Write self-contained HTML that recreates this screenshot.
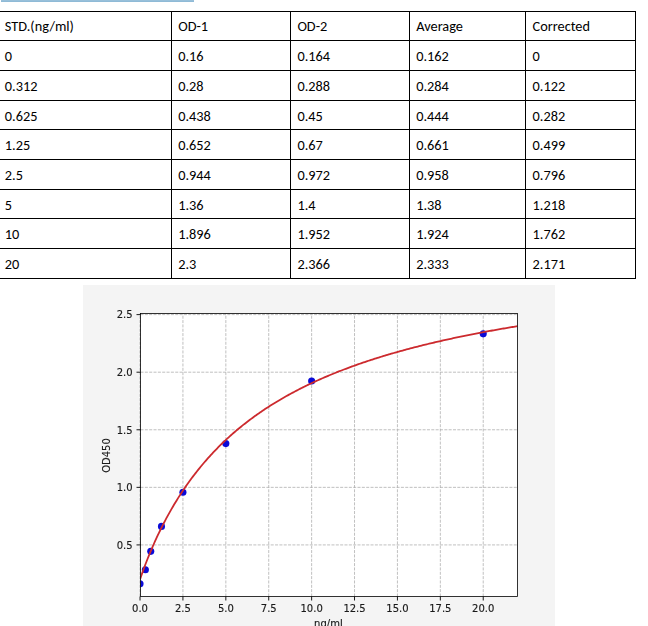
<!DOCTYPE html>
<html><head><meta charset="utf-8"><title>Standard curve</title>
<style>
html,body{margin:0;padding:0;background:#fff;}
#page{position:relative;width:648px;height:626px;overflow:hidden;background:#fff;}
.bar{position:absolute;left:1px;top:0;width:193px;height:2px;background:linear-gradient(#98c0da 0 1px,#8fbad6 1px 2px);}
.tbl{position:absolute;left:-1px;top:11px;border-collapse:separate;border-spacing:0;border-top:1px solid #000;border-left:1px solid #000;table-layout:fixed;font-family:Carlito,"Liberation Sans",sans-serif;font-size:14.3px;color:#000;}
.tbl th,.tbl td{box-sizing:border-box;border-right:1px solid #000;border-bottom:1px solid #000;padding:6px 0 0 0;vertical-align:top;text-align:left;font-weight:normal;line-height:18px;white-space:nowrap;overflow:hidden;}
.tbl th{padding-top:5px;}
.tbl tr>*:nth-child(1){width:172px;padding-left:4.8px;}
.tbl tr>*:nth-child(2){width:119px;padding-left:6.2px;}
.tbl tr>*:nth-child(3){width:119px;padding-left:6.4px;}
.tbl tr>*:nth-child(4){width:116px;padding-left:6.2px;}
.tbl tr>*:nth-child(5){width:110px;padding-left:6.6px;}
.chart{position:absolute;left:0;top:0;will-change:transform;}
</style></head><body><div id="page">
<div class="bar"></div>
<table class="tbl">
<tr style="height:29px">
<th>STD.(ng/ml)</th>
<th>OD-1</th>
<th>OD-2</th>
<th>Average</th>
<th>Corrected</th>
</tr>
<tr style="height:30px">
<td>0</td>
<td>0.16</td>
<td>0.164</td>
<td>0.162</td>
<td>0</td>
</tr>
<tr style="height:30px">
<td>0.312</td>
<td>0.28</td>
<td>0.288</td>
<td>0.284</td>
<td>0.122</td>
</tr>
<tr style="height:29px">
<td>0.625</td>
<td>0.438</td>
<td>0.45</td>
<td>0.444</td>
<td>0.282</td>
</tr>
<tr style="height:30px">
<td>1.25</td>
<td>0.652</td>
<td>0.67</td>
<td>0.661</td>
<td>0.499</td>
</tr>
<tr style="height:30px">
<td>2.5</td>
<td>0.944</td>
<td>0.972</td>
<td>0.958</td>
<td>0.796</td>
</tr>
<tr style="height:29px">
<td>5</td>
<td>1.36</td>
<td>1.4</td>
<td>1.38</td>
<td>1.218</td>
</tr>
<tr style="height:30px">
<td>10</td>
<td>1.896</td>
<td>1.952</td>
<td>1.924</td>
<td>1.762</td>
</tr>
<tr style="height:30px">
<td>20</td>
<td>2.3</td>
<td>2.366</td>
<td>2.333</td>
<td>2.171</td>
</tr>
</table>
<svg class="chart" width="648" height="626" viewBox="0 0 648 626"><rect x="83" y="285" width="472" height="341" fill="#f4f4f4"/><rect x="140.5" y="313.5" width="377.0" height="283.0" fill="#fff"/><g stroke="#b0b0b0" stroke-width="0.8" stroke-dasharray="3.03 1.31" fill="none"><line x1="140.03" y1="596.5" x2="140.03" y2="313.5"/><line x1="182.93" y1="596.5" x2="182.93" y2="313.5"/><line x1="225.83" y1="596.5" x2="225.83" y2="313.5"/><line x1="268.73" y1="596.5" x2="268.73" y2="313.5"/><line x1="311.63" y1="596.5" x2="311.63" y2="313.5"/><line x1="354.53" y1="596.5" x2="354.53" y2="313.5"/><line x1="397.43" y1="596.5" x2="397.43" y2="313.5"/><line x1="440.33" y1="596.5" x2="440.33" y2="313.5"/><line x1="483.23" y1="596.5" x2="483.23" y2="313.5"/><line x1="140.5" y1="544.92" x2="517.5" y2="544.92"/><line x1="140.5" y1="487.35" x2="517.5" y2="487.35"/><line x1="140.5" y1="429.77" x2="517.5" y2="429.77"/><line x1="140.5" y1="372.20" x2="517.5" y2="372.20"/><line x1="140.5" y1="314.62" x2="517.5" y2="314.62"/></g><clipPath id="ax"><rect x="140.5" y="313.5" width="377.0" height="283.0"/></clipPath><g fill="#0a0ad8" clip-path="url(#ax)"><circle cx="140.03" cy="583.85" r="3.55"/><circle cx="145.38" cy="569.80" r="3.55"/><circle cx="150.75" cy="551.37" r="3.55"/><circle cx="161.48" cy="526.39" r="3.55"/><circle cx="182.93" cy="492.19" r="3.55"/><circle cx="225.83" cy="443.59" r="3.55"/><circle cx="311.63" cy="380.95" r="3.55"/><circle cx="483.23" cy="333.86" r="3.55"/></g><path d="M140.03,579.40 L141.29,575.65 L142.56,572.08 L143.82,568.62 L145.08,565.25 L146.34,561.97 L147.61,558.76 L148.87,555.63 L150.13,552.56 L151.39,549.57 L152.66,546.63 L153.92,543.76 L155.18,540.95 L156.44,538.19 L157.71,535.49 L158.97,532.84 L160.23,530.24 L161.49,527.69 L162.76,525.18 L164.02,522.73 L165.28,520.31 L166.54,517.94 L167.81,515.62 L169.07,513.33 L170.33,511.08 L171.60,508.88 L172.86,506.71 L174.12,504.57 L175.38,502.48 L176.65,500.41 L177.91,498.38 L179.17,496.39 L180.43,494.42 L181.70,492.49 L182.96,490.59 L184.22,488.71 L185.48,486.87 L186.75,485.05 L188.01,483.27 L189.27,481.50 L190.53,479.77 L191.80,478.06 L193.06,476.38 L194.32,474.72 L195.58,473.08 L196.85,471.47 L198.11,469.88 L199.37,468.32 L200.64,466.77 L201.90,465.25 L203.16,463.75 L204.42,462.27 L205.69,460.81 L206.95,459.37 L208.21,457.95 L209.47,456.55 L210.74,455.16 L212.00,453.80 L213.26,452.45 L214.52,451.12 L215.79,449.81 L217.05,448.51 L218.31,447.23 L219.57,445.97 L220.84,444.72 L222.10,443.49 L223.36,442.27 L224.62,441.07 L225.89,439.88 L227.15,438.71 L228.41,437.55 L229.68,436.40 L230.94,435.27 L232.20,434.16 L233.46,433.05 L234.73,431.96 L235.99,430.88 L237.25,429.81 L238.51,428.76 L239.78,427.72 L241.04,426.69 L242.30,425.67 L243.56,424.66 L244.83,423.67 L246.09,422.68 L247.35,421.71 L248.61,420.74 L249.88,419.79 L251.14,418.85 L252.40,417.91 L253.66,416.99 L254.93,416.08 L256.19,415.18 L257.45,414.28 L258.72,413.40 L259.98,412.52 L261.24,411.66 L262.50,410.80 L263.77,409.95 L265.03,409.11 L266.29,408.28 L267.55,407.46 L268.82,406.65 L270.08,405.84 L271.34,405.04 L272.60,404.25 L273.87,403.47 L275.13,402.69 L276.39,401.93 L277.65,401.17 L278.92,400.41 L280.18,399.67 L281.44,398.93 L282.70,398.20 L283.97,397.48 L285.23,396.76 L286.49,396.05 L287.76,395.34 L289.02,394.65 L290.28,393.95 L291.54,393.27 L292.81,392.59 L294.07,391.92 L295.33,391.25 L296.59,390.59 L297.86,389.94 L299.12,389.29 L300.38,388.65 L301.64,388.01 L302.91,387.38 L304.17,386.75 L305.43,386.13 L306.69,385.52 L307.96,384.91 L309.22,384.30 L310.48,383.70 L311.74,383.11 L313.01,382.52 L314.27,381.94 L315.53,381.36 L316.80,380.78 L318.06,380.21 L319.32,379.65 L320.58,379.09 L321.85,378.53 L323.11,377.98 L324.37,377.44 L325.63,376.89 L326.90,376.36 L328.16,375.82 L329.42,375.29 L330.68,374.77 L331.95,374.25 L333.21,373.73 L334.47,373.22 L335.73,372.71 L337.00,372.21 L338.26,371.71 L339.52,371.21 L340.78,370.72 L342.05,370.23 L343.31,369.75 L344.57,369.26 L345.84,368.79 L347.10,368.31 L348.36,367.84 L349.62,367.38 L350.89,366.91 L352.15,366.45 L353.41,366.00 L354.67,365.54 L355.94,365.09 L357.20,364.65 L358.46,364.20 L359.72,363.76 L360.99,363.33 L362.25,362.89 L363.51,362.46 L364.77,362.04 L366.04,361.61 L367.30,361.19 L368.56,360.77 L369.82,360.36 L371.09,359.95 L372.35,359.54 L373.61,359.13 L374.88,358.73 L376.14,358.33 L377.40,357.93 L378.66,357.53 L379.93,357.14 L381.19,356.75 L382.45,356.36 L383.71,355.98 L384.98,355.60 L386.24,355.22 L387.50,354.84 L388.76,354.47 L390.03,354.10 L391.29,353.73 L392.55,353.36 L393.81,353.00 L395.08,352.63 L396.34,352.27 L397.60,351.92 L398.86,351.56 L400.13,351.21 L401.39,350.86 L402.65,350.51 L403.92,350.17 L405.18,349.82 L406.44,349.48 L407.70,349.14 L408.97,348.81 L410.23,348.47 L411.49,348.14 L412.75,347.81 L414.02,347.48 L415.28,347.16 L416.54,346.83 L417.80,346.51 L419.07,346.19 L420.33,345.87 L421.59,345.55 L422.85,345.24 L424.12,344.93 L425.38,344.62 L426.64,344.31 L427.90,344.00 L429.17,343.70 L430.43,343.39 L431.69,343.09 L432.96,342.79 L434.22,342.50 L435.48,342.20 L436.74,341.91 L438.01,341.62 L439.27,341.32 L440.53,341.04 L441.79,340.75 L443.06,340.46 L444.32,340.18 L445.58,339.90 L446.84,339.62 L448.11,339.34 L449.37,339.06 L450.63,338.79 L451.89,338.51 L453.16,338.24 L454.42,337.97 L455.68,337.70 L456.94,337.43 L458.21,337.17 L459.47,336.90 L460.73,336.64 L462.00,336.38 L463.26,336.12 L464.52,335.86 L465.78,335.60 L467.05,335.34 L468.31,335.09 L469.57,334.84 L470.83,334.58 L472.10,334.33 L473.36,334.08 L474.62,333.84 L475.88,333.59 L477.15,333.35 L478.41,333.10 L479.67,332.86 L480.93,332.62 L482.20,332.38 L483.46,332.14 L484.72,331.90 L485.98,331.67 L487.25,331.43 L488.51,331.20 L489.77,330.97 L491.04,330.74 L492.30,330.51 L493.56,330.28 L494.82,330.05 L496.09,329.82 L497.35,329.60 L498.61,329.38 L499.87,329.15 L501.14,328.93 L502.40,328.71 L503.66,328.49 L504.92,328.27 L506.19,328.06 L507.45,327.84 L508.71,327.63 L509.97,327.41 L511.24,327.20 L512.50,326.99 L513.76,326.78 L515.02,326.57 L516.29,326.36 L517.55,326.15" fill="none" stroke="#cc2a2e" stroke-width="1.8" clip-path="url(#ax)"/><rect x="140.5" y="313.5" width="377.0" height="283.0" fill="none" stroke="#000" stroke-width="0.8"/><g stroke="#000" stroke-width="0.9"><line x1="140.03" y1="596.5" x2="140.03" y2="600.5"/><line x1="182.93" y1="596.5" x2="182.93" y2="600.5"/><line x1="225.83" y1="596.5" x2="225.83" y2="600.5"/><line x1="268.73" y1="596.5" x2="268.73" y2="600.5"/><line x1="311.63" y1="596.5" x2="311.63" y2="600.5"/><line x1="354.53" y1="596.5" x2="354.53" y2="600.5"/><line x1="397.43" y1="596.5" x2="397.43" y2="600.5"/><line x1="440.33" y1="596.5" x2="440.33" y2="600.5"/><line x1="483.23" y1="596.5" x2="483.23" y2="600.5"/><line x1="136.5" y1="544.92" x2="140.5" y2="544.92"/><line x1="136.5" y1="487.35" x2="140.5" y2="487.35"/><line x1="136.5" y1="429.77" x2="140.5" y2="429.77"/><line x1="136.5" y1="372.20" x2="140.5" y2="372.20"/><line x1="136.5" y1="314.62" x2="140.5" y2="314.62"/></g><g font-family="'DejaVu Sans', sans-serif" font-size="10" fill="#1a1a1a" stroke="#1a1a1a" stroke-width="0.15"><text x="140.03" y="611.9" text-anchor="middle">0.0</text><text x="182.93" y="611.9" text-anchor="middle">2.5</text><text x="225.83" y="611.9" text-anchor="middle">5.0</text><text x="268.73" y="611.9" text-anchor="middle">7.5</text><text x="311.63" y="611.9" text-anchor="middle">10.0</text><text x="354.53" y="611.9" text-anchor="middle">12.5</text><text x="397.43" y="611.9" text-anchor="middle">15.0</text><text x="440.33" y="611.9" text-anchor="middle">17.5</text><text x="483.23" y="611.9" text-anchor="middle">20.0</text><text x="132.6" y="548.72" text-anchor="end">0.5</text><text x="132.6" y="491.15" text-anchor="end">1.0</text><text x="132.6" y="433.57" text-anchor="end">1.5</text><text x="132.6" y="376.00" text-anchor="end">2.0</text><text x="132.6" y="318.43" text-anchor="end">2.5</text><text x="328.4" y="626.9" text-anchor="middle">ng/ml</text><text transform="translate(110.2 455.5) rotate(-90)" text-anchor="middle">OD450</text></g></svg>
</div></body></html>
